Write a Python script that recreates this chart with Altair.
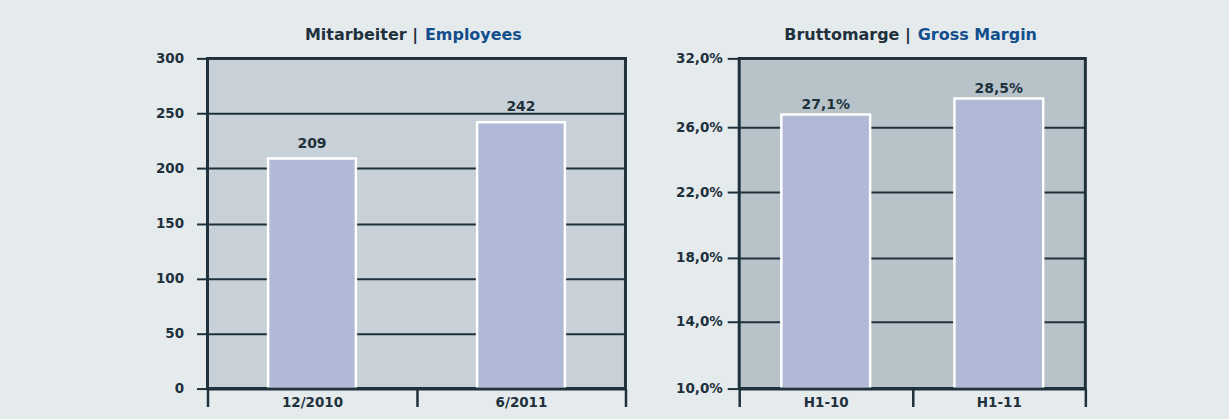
import altair as alt
import pandas as pd

# ---- data ----
emp_cat = ["12/2010", "6/2011"]
emp_val = [209, 242]
gm_cat = ["H1-10", "H1-11"]
gm_val = [27.1, 28.5]
emp_ticks = [0, 50, 100, 150, 200, 250, 300]
gm_ticks = [10, 14, 18, 22, 26, 32]
titles_de = ["Mitarbeiter |", "Bruttomarge |"]
titles_en = ["Employees", "Gross Margin"]

# ---- style ----
FONT = "DejaVu Sans"
DARK = "#1e313c"
BLUE = "#124e8c"
BG = "#e5eaed"
BAR = "#b0b9d6"
H = 331


def panel(cats, vals, yscale, ymin, ticks, width, tdesc, tdeen, split_x,
          lbl_dy, lbl_expr, tick_lbl_expr, tick_size, lbl_pad, barsize, fill):
    df = pd.DataFrame({"cat": cats, "val": vals})
    base = alt.Chart(df).transform_calculate(lbl=lbl_expr)
    xenc = alt.X(
        "cat:N", sort=cats,
        scale=alt.Scale(paddingInner=0, paddingOuter=0),
        axis=alt.Axis(
            title=None, tickBand="extent", tickSize=18, tickWidth=2.5,
            tickColor=DARK, domain=True, domainWidth=3, domainColor=DARK,
            labelPadding=-11, labelAngle=0, labelBaseline="top",
            labelFont=FONT, labelFontSize=13.5, labelFontWeight="bold",
            labelColor=DARK, zindex=1,
        ),
    )
    yaxis_kw = dict(
        values=ticks, title=None, grid=True, gridColor=DARK, gridWidth=2,
        tickSize=tick_size, tickWidth=2, tickColor=DARK, domain=False,
        labelPadding=lbl_pad, labelFont=FONT, labelFontSize=13.5,
        labelFontWeight="bold", labelColor=DARK,
    )
    if tick_lbl_expr:
        yaxis_kw["labelExpr"] = tick_lbl_expr
    yenc = alt.Y("val:Q", scale=yscale, axis=alt.Axis(**yaxis_kw))
    bars = base.mark_bar(color=BAR, stroke="white", strokeWidth=2.5,
                         size=barsize).encode(x=xenc, y=yenc,
                                              y2=alt.datum(ymin))
    labels = base.mark_text(dy=lbl_dy, baseline="alphabetic", font=FONT,
                            fontSize=14, fontWeight="bold",
                            color=DARK).encode(
        x=alt.X("cat:N", sort=cats), y=alt.Y("val:Q"), text="lbl:N")
    tdf = pd.DataFrame({"de": [tdesc], "en": [tdeen]})
    t1 = alt.Chart(tdf).mark_text(align="right", baseline="alphabetic",
                                  font=FONT, fontSize=16, fontWeight="bold",
                                  color=DARK).encode(
        x=alt.value(split_x), y=alt.value(-18), text="de:N")
    t2 = alt.Chart(tdf).mark_text(align="left", baseline="alphabetic",
                                  font=FONT, fontSize=16, fontWeight="bold",
                                  color=BLUE).encode(
        x=alt.value(split_x + 7), y=alt.value(-18), text="en:N")
    return alt.layer(bars, labels, t1, t2).properties(
        width=width, height=H,
        view=alt.ViewBackground(fill=fill, stroke=DARK, strokeWidth=3),
    )


left = panel(
    emp_cat, emp_val,
    alt.Scale(domain=[0, 300], nice=False), 0, emp_ticks, 419,
    titles_de[0], titles_en[0], 211, -11,
    "format(datum.val, 'd')", None, 11, 13, 88, "#c9d1d8",
)
right = panel(
    gm_cat, gm_val,
    alt.Scale(domain=gm_ticks, range=[331, 264, 200, 134, 69, 0],
              zero=False, nice=False),
    10, gm_ticks, 347,
    titles_de[1], titles_en[1], 172, -6,
    "replace(format(datum.val, '.1f'), '.', ',') + '%'",
    "replace(format(datum.value, '.1f'), '.', ',') + '%'",
    12, 5, 89, "#b7c3c9",
)

chart = alt.hconcat(left, right, spacing=114, bounds="flush").properties(
    autosize=alt.AutoSizeParams(type="pad"),
    padding={"left": 154, "top": 25, "right": 141, "bottom": 12},
    background=BG,
)

chart.save("out.html", embed_options={"renderer": "svg", "actions": False})
